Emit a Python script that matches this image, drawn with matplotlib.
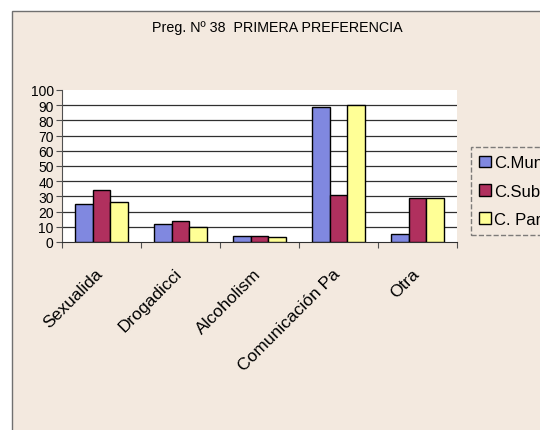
import matplotlib.pyplot as plt
import matplotlib.patches as mpatches
import numpy as np

categories = ["Sexualida", "Drogadicci", "Alcoholism", "Comunicación Pa", "Otra"]
series_names = ["C.Municipal", "C.Subv.", "C. Part."]
munic = [25, 12, 4, 89, 5]
subv = [34, 14, 4, 31, 29]
part = [26, 10, 3, 90, 29]
colors = ["#8088e0", "#b0305e", "#ffff96"]

plt.rcParams['font.family'] = ['Liberation Sans', 'DejaVu Sans']

fig = plt.figure(figsize=(5.4, 4.31), dpi=100, facecolor="white")
# scanned page background with border
bg = mpatches.Rectangle((12 / 540, -0.01), 1.0, 1 - 12 / 431 + 0.01, transform=fig.transFigure,
                        facecolor="#f3e9df", edgecolor="#707070", linewidth=1.0, zorder=-10)
fig.patches.append(bg)

ax = fig.add_axes([62 / 540, 1 - 243 / 431, 395 / 540, 152 / 431])
ax.set_facecolor("white")

x = np.arange(len(categories))
w = 0.225
for i, vals in enumerate([munic, subv, part]):
    ax.bar(x + (i - 1) * w, vals, w, color=colors[i], edgecolor="black",
           linewidth=1.0, label=series_names[i], zorder=3)

ax.set_xlim(-0.5, len(categories) - 0.5)
ax.set_ylim(0, 100)
ax.set_yticks(range(0, 101, 10))
ax.set_yticklabels([str(v) for v in range(0, 101, 10)], fontsize=10)
for v in range(10, 100, 10):
    ax.axhline(v, color="#303030", linewidth=0.9, zorder=1)

ax.set_xticks(np.arange(len(categories) + 1) - 0.5)
ax.set_xticklabels([])
ax.set_xticks(x - 0.08, minor=True)
ax.set_xticklabels(categories, minor=True, rotation=45, ha="right", va="top",
                   rotation_mode="anchor", fontsize=12.5)
ax.tick_params(axis="x", which="minor", length=0, pad=17)
ax.tick_params(axis="x", which="major", length=4, direction="out", color="#505050")
ax.tick_params(axis="y", length=4, pad=2, color="#505050")

for s in ["top", "right"]:
    ax.spines[s].set_visible(False)
ax.spines["left"].set_color("#505050")
ax.spines["bottom"].set_color("#303030")

fig.text(277 / 540, 1 - 28 / 431, "Preg. Nº 38  PRIMERA PREFERENCIA", ha="center", va="center",
         fontsize=10.3)

leg = fig.legend(loc="upper left", bbox_to_anchor=(471 / 540, 1 - 148 / 431), fontsize=12,
                 frameon=True, fancybox=False, handlelength=0.7, handleheight=0.7,
                 handletextpad=0.2, labelspacing=0.8, borderpad=0.5, borderaxespad=0)
leg.get_frame().set_edgecolor("#606060")
leg.get_frame().set_facecolor("#f3e9df")
leg.get_frame().set_linestyle("--")

fig.savefig("out.png", dpi=100, facecolor="white")
